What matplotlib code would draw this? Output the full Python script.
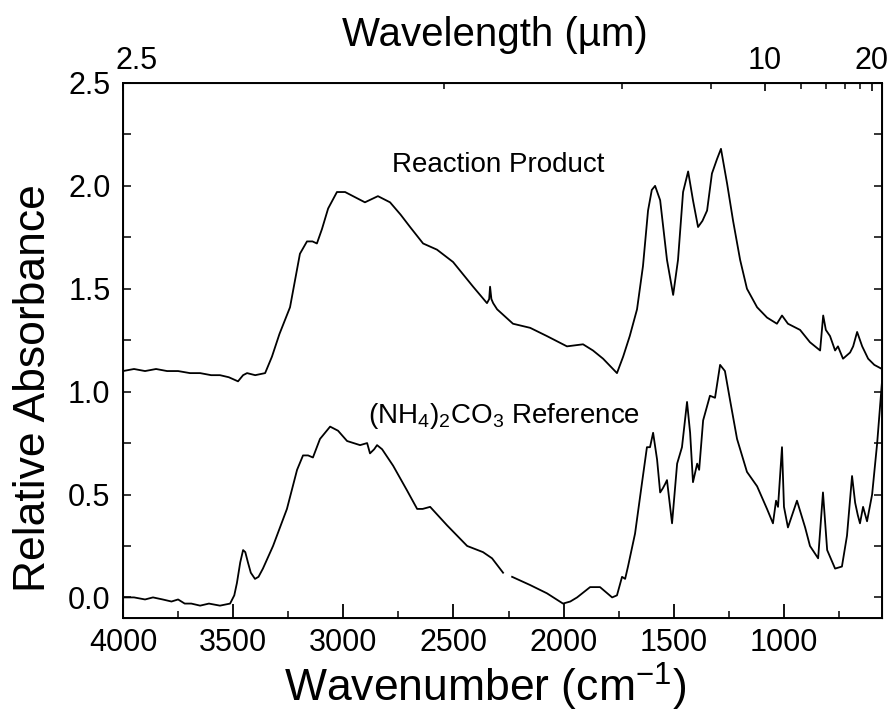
import matplotlib
matplotlib.use("Agg")
import matplotlib.pyplot as plt
from matplotlib.ticker import MultipleLocator, FixedLocator, NullFormatter
from matplotlib.transforms import ScaledTranslation

plt.rcParams['font.family'] = ['Liberation Sans', 'DejaVu Sans']
plt.rcParams['mathtext.fontset'] = 'custom'
plt.rcParams['mathtext.rm'] = 'Liberation Sans'
plt.rcParams['mathtext.it'] = 'Liberation Sans:italic'
plt.rcParams['mathtext.default'] = 'regular'

# reaction product (upper trace), wavenumber cm-1 / relative absorbance
prod_wn = [4000, 3950, 3900, 3850, 3800, 3750, 3696, 3650, 3600, 3560, 3520, 3478, 3455,
           3437, 3400, 3355, 3324, 3290, 3242, 3197, 3165, 3140, 3120, 3097, 3069, 3029,
           2992, 2956, 2902, 2843, 2788, 2740, 2697, 2638, 2575, 2502, 2411, 2348, 2338,
           2334, 2328, 2320, 2302, 2230, 2152, 2076, 1985, 1912, 1867, 1821, 1758, 1730,
           1700, 1667, 1640, 1617, 1600, 1585, 1562, 1531, 1503, 1481, 1458, 1435, 1413,
           1390, 1370, 1349, 1327, 1304, 1286, 1258, 1231, 1199, 1168, 1122, 1077, 1032,
           1009, 982, 927, 882, 836, 822, 810, 791, 768, 755, 732, 700, 686, 668, 645,
           618, 590, 555]
prod_ab = [1.10, 1.11, 1.10, 1.11, 1.10, 1.10, 1.09, 1.09, 1.08, 1.08, 1.07, 1.05, 1.08,
           1.09, 1.08, 1.09, 1.17, 1.28, 1.41, 1.67, 1.73, 1.73, 1.72, 1.79, 1.89, 1.97,
           1.97, 1.95, 1.92, 1.95, 1.92, 1.86, 1.80, 1.72, 1.69, 1.63, 1.51, 1.43, 1.45,
           1.51, 1.45, 1.43, 1.40, 1.33, 1.31, 1.27, 1.22, 1.23, 1.20, 1.16, 1.09, 1.17,
           1.27, 1.40, 1.61, 1.88, 1.98, 2.00, 1.93, 1.64, 1.47, 1.64, 1.97, 2.07, 1.93,
           1.80, 1.83, 1.88, 2.06, 2.13, 2.18, 2.01, 1.83, 1.64, 1.50, 1.41, 1.36, 1.33,
           1.37, 1.33, 1.30, 1.24, 1.20, 1.37, 1.30, 1.27, 1.20, 1.22, 1.16, 1.19, 1.22,
           1.29, 1.22, 1.16, 1.13, 1.11]

# (NH4)2CO3 reference (lower trace)
ref_wn = [4000, 3950, 3900, 3864, 3820, 3780, 3750, 3720, 3690, 3650, 3610, 3560, 3514,
          3495, 3483, 3468, 3455, 3445, 3433, 3420, 3401, 3385, 3365, 3319, 3256, 3210,
          3183, 3160, 3138, 3106, 3060, 3024, 2983, 2924, 2892, 2879, 2860, 2847, 2824,
          2774, 2711, 2665, 2640, 2606, 2529, 2438, 2366, 2325, 2275]
ref_ab = [0.00, 0.00, -0.01, 0.00, -0.01, -0.02, -0.01, -0.03, -0.03, -0.04, -0.03, -0.04, -0.03,
          0.01, 0.07, 0.17, 0.23, 0.22, 0.17, 0.12, 0.09, 0.10, 0.14, 0.25, 0.43, 0.62,
          0.69, 0.69, 0.68, 0.77, 0.83, 0.81, 0.76, 0.74, 0.75, 0.70, 0.72, 0.74, 0.72,
          0.64, 0.52, 0.43, 0.43, 0.44, 0.35, 0.25, 0.22, 0.19, 0.12]
# second segment after the small gap in the recorded spectrum
ref2_wn = [2234, 2152, 2076, 2003, 1970, 1939, 1880, 1835, 1780, 1758, 1735, 1721, 1708,
           1676, 1644, 1622, 1608, 1594, 1576, 1562, 1550, 1540, 1531, 1508, 1485, 1463,
           1440, 1426, 1413, 1394, 1385, 1367, 1336, 1313, 1290, 1268, 1245, 1213, 1168,
           1122, 1077, 1050, 1036, 1027, 1009, 1000, 982, 941, 904, 882, 845, 823, 804,
           768, 737, 714, 691, 677, 665, 655, 641, 623, 600, 577, 555]
ref2_ab = [0.10, 0.06, 0.02, -0.03, -0.02, 0.00, 0.05, 0.05, 0.00, 0.01, 0.10, 0.09, 0.15,
           0.31, 0.56, 0.73, 0.73, 0.80, 0.67, 0.51, 0.53, 0.55, 0.57, 0.36, 0.65, 0.73,
           0.95, 0.80, 0.56, 0.65, 0.62, 0.86, 0.98, 0.97, 1.13, 1.10, 0.96, 0.77, 0.61,
           0.54, 0.43, 0.36, 0.47, 0.44, 0.73, 0.44, 0.34, 0.47, 0.34, 0.25, 0.19, 0.51, 0.23,
           0.14, 0.15, 0.30, 0.59, 0.46, 0.40, 0.36, 0.44, 0.37, 0.50, 0.75, 1.05]

# wavelength ticks for the top axis (um)
wl_major = [2.5, 10, 20]
wl_minor = [4, 6, 8, 12, 14, 16, 18]

fig = plt.figure(figsize=(8.94, 7.19), dpi=100)
ax = fig.add_axes([0.1376, 0.1405, 0.8490, 0.7441])

lw = 1.3
ax.plot(prod_wn, prod_ab, color='black', lw=lw)
ax.plot(ref_wn, ref_ab, color='black', lw=lw)
ax.plot(ref2_wn, ref2_ab, color='black', lw=lw)

ax.set_xlim(4000, 555)
ax.set_ylim(-0.1, 2.5)
ax.xaxis.set_major_locator(MultipleLocator(500))
ax.xaxis.set_minor_locator(MultipleLocator(250))
ax.yaxis.set_major_locator(MultipleLocator(0.5))
ax.yaxis.set_minor_locator(MultipleLocator(0.25))
ax.yaxis.set_major_formatter(plt.FormatStrFormatter('%.1f'))
ax.tick_params(axis='x', which='both', direction='in', labelsize=22, pad=7)
ax.tick_params(axis='x', which='major', length=10, width=1.3)
ax.tick_params(axis='x', which='minor', length=5, width=1.1)
ax.tick_params(axis='y', which='both', direction='in', labelsize=22, pad=9,
               right=True, length=6, width=1.1)
for s in ax.spines.values():
    s.set_linewidth(1.4)

ax.set_xlabel(r'Wavenumber (cm$^{-1}$)', fontsize=32, labelpad=2)
ax.set_ylabel('Relative Absorbance', fontsize=32, labelpad=10)
ax.xaxis.label.set_x(0.477)
ax.yaxis.label.set_y(0.43)

ax.text(2298, 2.10, 'Reaction Product', fontsize=20, ha='center', va='center')
ax.text(2890, 0.88, r'(NH$_4$)$_2$CO$_3$ Reference', fontsize=20, ha='left', va='center')

# top wavelength axis (its scale in the original is slightly compressed)
top = ax.twiny()
top.set_xlim(4000, 453)
top.xaxis.set_major_locator(FixedLocator([10000 / w for w in wl_major]))
top.set_xticklabels(['2.5', '10', '20'])
top.xaxis.set_minor_locator(FixedLocator([10000 / w for w in wl_minor]))
top.xaxis.set_minor_formatter(NullFormatter())
top.tick_params(axis='x', which='both', direction='in', labelsize=22, pad=5)
top.tick_params(axis='x', which='major', length=6, width=1.2)
top.tick_params(axis='x', which='minor', length=4, width=1.1)
top.set_xlabel(u'Wavelength (\u00b5m)', fontsize=29, labelpad=0)
top.xaxis.label.set_x(0.49)

# the "2.5" label sits a little right of the axis corner in the original
t0 = top.xaxis.get_major_ticks()[0]
t0.label2.set_transform(t0.label2.get_transform() +
                        ScaledTranslation(0.14, 0, fig.dpi_scale_trans))

fig.savefig('out.png', dpi=100)
